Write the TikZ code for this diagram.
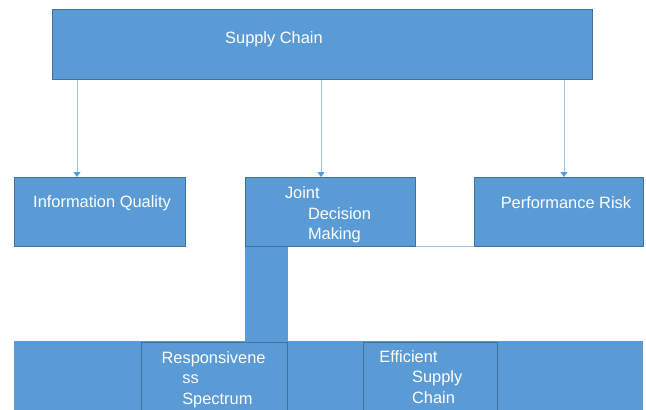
\documentclass[tikz,border=0pt]{standalone}
\usepackage{fontspec}
\setmainfont{Liberation Sans}
\usetikzlibrary{arrows.meta,positioning}
\definecolor{boxblue}{HTML}{5B9BD5}
\definecolor{boxline}{HTML}{41719C}
\definecolor{linkblue}{HTML}{9DC3E6}
\tikzset{blk/.style={draw=boxline, fill=boxblue, line width=0.8pt, inner sep=0pt, anchor=north west}}
\tikzstyle{pad}=[fill=boxblue, inner sep=0pt, anchor=north west]
\tikzstyle{lbl}=[text=white, inner sep=0pt, align=left, anchor=base west, font=\fontsize{16.4}{20.5}\selectfont]

\begin{document}
\begin{tikzpicture}[x=1pt, y=1pt, >={Triangle[width=7pt,length=5pt,color=boxblue]}]
\useasboundingbox (0,0) rectangle (646,-410);
\node[blk, minimum width=540pt, minimum height=70pt] (SC) at (52,-9) {};
\node[blk, minimum width=171pt, minimum height=69pt] (IQ) at (14,-177) {};
\node[blk, minimum width=170pt, minimum height=69pt, right=59pt of IQ] (JDM) {};
\node[blk, minimum width=169pt, minimum height=69pt, right=58pt of JDM] (PR) {};
\node[pad, minimum width=43pt, minimum height=95pt] (ST) at (JDM.south west) {};
\node[pad, minimum width=629pt, minimum height=69pt] (BB) at (14,-341) {};
\node[blk, minimum width=146pt, minimum height=69pt, anchor=north east] (RS) at (ST.south east) {};
\node[blk, minimum width=134pt, minimum height=69pt, right=75pt of RS] (ESC) {};
% labels (base = last line)
\node[lbl] (SCt) at ([shift={(173pt,-34.3pt)}]SC.north west) {Supply Chain};
\node[lbl] (IQt) at ([shift={(19pt,-30.7pt)}]IQ.north west) {Information Quality};
\node[lbl] (JDMt) at ([shift={(40pt,-62.5pt)}]JDM.north west) {Joint\\\hspace*{23pt}Decision\\\hspace*{23pt}Making};
\node[lbl] (PRt) at ([shift={(27pt,-31pt)}]PR.north west) {Performance Risk};
\node[lbl] (RSt) at ([shift={(20pt,-62pt)}]RS.north west) {Responsivene\\\hspace*{20.7pt}ss\\\hspace*{20.7pt}Spectrum};
\node[lbl] (ESCt) at ([shift={(16pt,-61pt)}]ESC.north west) {Efficient\\\hspace*{32.7pt}Supply\\\hspace*{32.7pt}Chain};
% connectors
\coordinate (xIQ) at (77,0);
\coordinate (xJDM) at (321,0);
\coordinate (xPR) at (564,0);
\path[->, color=linkblue, line width=0.8pt]
  (SC.south -| xIQ) edge (IQ.north -| xIQ)
  (SC.south -| xJDM) edge (JDM.north -| xJDM)
  (SC.south -| xPR) edge (PR.north -| xPR);
\draw[linkblue, line width=0.8pt] (JDM.south east) -- (PR.south west);
\end{tikzpicture}
\end{document}
